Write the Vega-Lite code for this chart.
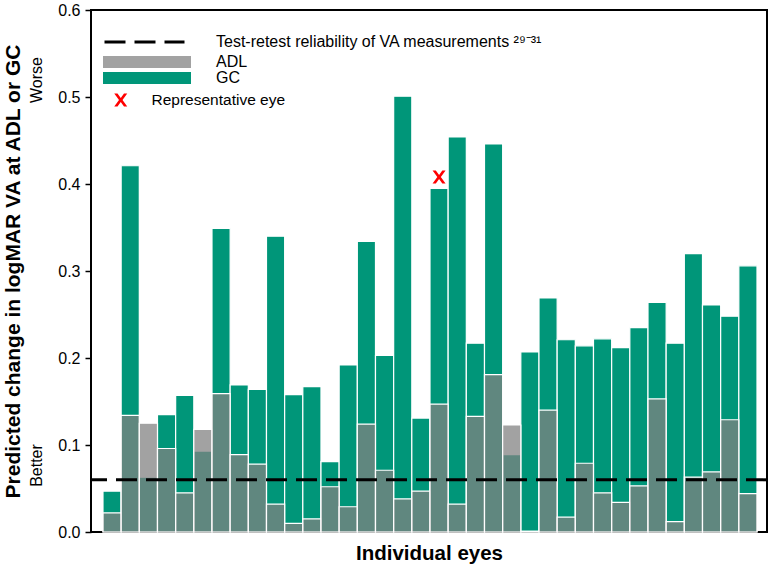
{
  "$schema": "https://vega.github.io/schema/vega-lite/v6.json",
  "width": 676,
  "height": 522,
  "autosize": {"type": "none"},
  "padding": {"left": 91, "top": 10, "right": 4, "bottom": 36},
  "background": "white",
  "config": {
    "font": "Liberation Sans",
    "view": {"stroke": "#000000", "strokeWidth": 2},
    "legend": {"padding": 0, "labelColor": "black", "labelFontSize": 16, "labelLimit": 0},
    "axis": {"grid": false}
  },
  "datasets": {
    "eyes": [
      {"eye": 1, "ADL": 0.022, "GC": 0.047},
      {"eye": 2, "ADL": 0.134, "GC": 0.421},
      {"eye": 3, "ADL": 0.125, "GC": 0.063},
      {"eye": 4, "ADL": 0.096, "GC": 0.135},
      {"eye": 5, "ADL": 0.045, "GC": 0.157},
      {"eye": 6, "ADL": 0.118, "GC": 0.093},
      {"eye": 7, "ADL": 0.159, "GC": 0.349},
      {"eye": 8, "ADL": 0.089, "GC": 0.169},
      {"eye": 9, "ADL": 0.078, "GC": 0.164},
      {"eye": 10, "ADL": 0.032, "GC": 0.340},
      {"eye": 11, "ADL": 0.010, "GC": 0.158},
      {"eye": 12, "ADL": 0.015, "GC": 0.167},
      {"eye": 13, "ADL": 0.052, "GC": 0.081},
      {"eye": 14, "ADL": 0.029, "GC": 0.192},
      {"eye": 15, "ADL": 0.124, "GC": 0.334},
      {"eye": 16, "ADL": 0.071, "GC": 0.203},
      {"eye": 17, "ADL": 0.038, "GC": 0.501},
      {"eye": 18, "ADL": 0.047, "GC": 0.131},
      {"eye": 19, "ADL": 0.147, "GC": 0.395},
      {"eye": 20, "ADL": 0.032, "GC": 0.454},
      {"eye": 21, "ADL": 0.133, "GC": 0.217},
      {"eye": 22, "ADL": 0.181, "GC": 0.446},
      {"eye": 23, "ADL": 0.123, "GC": 0.089},
      {"eye": 24, "ADL": 0.001, "GC": 0.207},
      {"eye": 25, "ADL": 0.140, "GC": 0.269},
      {"eye": 26, "ADL": 0.017, "GC": 0.221},
      {"eye": 27, "ADL": 0.079, "GC": 0.214},
      {"eye": 28, "ADL": 0.045, "GC": 0.222},
      {"eye": 29, "ADL": 0.034, "GC": 0.212},
      {"eye": 30, "ADL": 0.053, "GC": 0.235},
      {"eye": 31, "ADL": 0.153, "GC": 0.264},
      {"eye": 32, "ADL": 0.012, "GC": 0.217},
      {"eye": 33, "ADL": 0.063, "GC": 0.320},
      {"eye": 34, "ADL": 0.069, "GC": 0.261},
      {"eye": 35, "ADL": 0.129, "GC": 0.248},
      {"eye": 36, "ADL": 0.044, "GC": 0.306}
    ],
    "rep": [
      {"eye": 19, "y": 0.408, "label": "Representative eye"}
    ],
    "ref": [
      {"threshold": 0.06, "label": "Test-retest reliability of VA measurements ²⁹⁻³¹"}
    ]
  },
  "layer": [
    {
      "data": {"name": "eyes"},
      "mark": {"type": "bar", "stroke": "white", "strokeWidth": 1.2},
      "encoding": {
        "x": {
          "field": "eye",
          "type": "ordinal",
          "scale": {"paddingInner": 0, "paddingOuter": 0.605, "align": 0.545},
          "axis": {
            "labels": false,
            "ticks": false,
            "domain": false,
            "title": "Individual eyes",
            "titleFontSize": 20.5,
            "titleFontWeight": "bold",
            "titleColor": "black",
            "titlePadding": 11
          }
        },
        "y": {
          "field": "GC",
          "type": "quantitative",
          "scale": {"domain": [0, 0.6], "nice": false, "zero": true},
          "axis": {
            "orient": "left",
            "values": [0, 0.1, 0.2, 0.3, 0.4, 0.5, 0.6],
            "format": ".1f",
            "labelFontSize": 16,
            "labelColor": "black",
            "labelFlush": false,
            "tickColor": "black",
            "tickWidth": 1.5,
            "tickSize": 6,
            "labelPadding": 5,
            "domain": false,
            "title": "Predicted change in logMAR VA at ADL or GC",
            "titleFontSize": 21,
            "titleFontWeight": "bold",
            "titleColor": "black",
            "titlePadding": 34
          }
        },
        "color": {
          "datum": "GC",
          "scale": {"domain": ["ADL", "GC"], "range": ["rgba(129,129,129,0.74)", "#009679"]},
          "legend": {
            "title": null,
            "orient": "none",
            "legendX": 12,
            "legendY": 45,
            "symbolType": "M-1,-0.136H1V0.136H-1Z",
            "symbolSize": 7744,
            "symbolStrokeWidth": 0,
            "clipHeight": 14,
            "rowPadding": 0,
            "labelOffset": 25,
            "labelFontSize": 16
          }
        }
      }
    },
    {
      "data": {"name": "eyes"},
      "mark": {"type": "bar", "stroke": "white", "strokeWidth": 1.2},
      "encoding": {
        "x": {"field": "eye", "type": "ordinal"},
        "y": {"field": "ADL", "type": "quantitative", "axis": null},
        "color": {"datum": "ADL"}
      }
    },
    {
      "data": {"name": "ref"},
      "mark": {"type": "rule", "color": "black", "strokeWidth": 3},
      "encoding": {
        "y": {
          "field": "threshold",
          "type": "quantitative",
          "axis": {
            "orient": "left",
            "values": [0.077, 0.52],
            "labelExpr": "datum.value > 0.3 ? 'Worse' : 'Better'",
            "labelAngle": 270,
            "labelAlign": "center",
            "labelBaseline": "bottom",
            "labelFontSize": 16,
            "labelColor": "black",
            "labelPadding": 47,
            "labelOverlap": false,
            "labelFlush": false,
            "ticks": false,
            "tickSize": 0,
            "domain": false,
            "grid": false,
            "title": null
          }
        },
        "strokeDash": {
          "field": "label",
          "type": "nominal",
          "scale": {"range": [[21, 9]]},
          "legend": {
            "title": null,
            "orient": "none",
            "legendX": 12,
            "legendY": 24,
            "symbolType": "stroke",
            "symbolSize": 6400,
            "symbolStrokeWidth": 3,
            "symbolStrokeColor": "black",
            "symbolDash": [22, 7],
            "clipHeight": 16,
            "labelOffset": 30,
            "labelFontSize": 16
          }
        }
      }
    },
    {
      "data": {"name": "rep"},
      "mark": {"type": "point", "filled": true, "color": "#ff0000", "size": 169, "opacity": 1},
      "encoding": {
        "x": {"field": "eye", "type": "ordinal"},
        "y": {"field": "y", "type": "quantitative", "axis": null},
        "shape": {
          "field": "label",
          "type": "nominal",
          "scale": {"range": ["M-1,-1H-0.5L0,-0.32L0.5,-1H1L0.27,0L1,1H0.5L0,0.32L-0.5,1H-1L-0.27,0Z"]},
          "legend": {
            "title": null,
            "orient": "none",
            "legendX": 22,
            "legendY": 82,
            "symbolSize": 169,
            "symbolFillColor": "#ff0000",
            "symbolStrokeWidth": 0,
            "clipHeight": 16,
            "labelOffset": 23,
            "labelFontSize": 15.5
          }
        }
      }
    }
  ],
  "resolve": {"axis": {"y": "independent"}}
}
